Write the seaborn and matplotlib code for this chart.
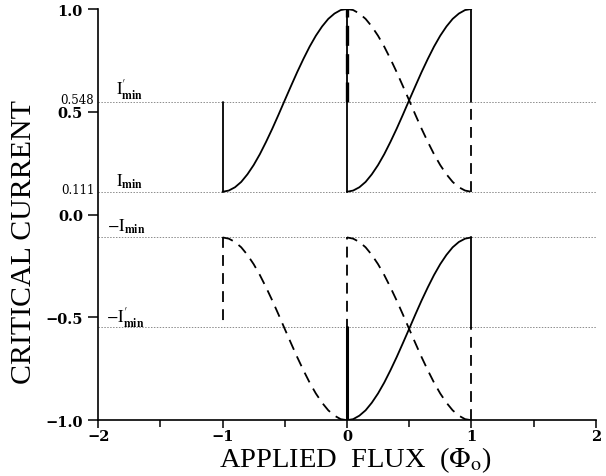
import numpy as np
import pandas as pd
import matplotlib
matplotlib.use("Agg")
import matplotlib.pyplot as plt
import seaborn as sns

# ---- data ----
I_MIN = 0.111
I_MIN_PRIME = 0.548
levels = [I_MIN_PRIME, I_MIN, -I_MIN, -I_MIN_PRIME]
level_names = [r"$\mathrm{I}^{\prime}_{\mathbf{min}}$", r"$\mathrm{I}_{\mathbf{min}}$",
               r"$-\mathrm{I}_{\mathbf{min}}$", r"$-\mathrm{I}^{\prime}_{\mathbf{min}}$"]

# phase within one flux quantum and the rising critical-current branch
phase = [0.0, 0.05, 0.1, 0.15, 0.2, 0.25, 0.3, 0.35, 0.4, 0.45, 0.5,
         0.55, 0.6, 0.65, 0.7, 0.75, 0.8, 0.85, 0.9, 0.95, 1.0]
rise = [0.111, 0.117, 0.133, 0.159, 0.196, 0.241, 0.294, 0.354, 0.418, 0.486, 0.556,
        0.625, 0.693, 0.757, 0.817, 0.870, 0.915, 0.952, 0.978, 0.995, 1.0]

xticks = [-2, -1, 0, 1, 2]
xminor = [-1.5, -0.5, 0.5, 1.5]
yticks = [-1.0, -0.5, 0.0, 0.5, 1.0]
yticklabels = ["\u22121.0", "\u22120.5", "0.0", "0.5", "1.0"]

# ---- build curve tables ----
rows = []
def add(name, xs, ys, style):
    for x, y in zip(xs, ys):
        rows.append(dict(seg=name, x=x, y=y, style=style))

ph = np.array(phase)
ri = np.array(rise)
# upper branch (solid)
add("u_s1", ph - 1, ri, "solid")
add("u_s2", ph, ri, "solid")
add("u_v1", [-1, -1], [I_MIN, I_MIN_PRIME], "solid")
add("u_v0", [0, 0], [1.0, I_MIN], "solid")
add("u_v2", [1, 1], [1.0, I_MIN_PRIME], "solid")
# upper branch (dashed)
add("u_d1", ph, ri[::-1], "dash")
add("u_dv0", [0, 0], [I_MIN_PRIME, 1.0], "dashthick")
add("u_dv1", [1, 1], [I_MIN, I_MIN_PRIME], "dash")
# lower branch (mirror: dashed)
add("l_d1", ph - 1, -ri, "dash")
add("l_d2", ph, -ri, "dash")
add("l_dv1", [-1, -1], [-I_MIN, -I_MIN_PRIME], "dash")
add("l_dv0", [0, 0], [-1.0, -I_MIN], "dash")
add("l_dv2", [1, 1], [-1.0, -I_MIN_PRIME], "dash")
# lower branch (solid)
add("l_s1", ph, -ri[::-1], "solid")
add("l_sv0", [0, 0], [-I_MIN_PRIME, -1.0], "solidthick")
add("l_sv1", [1, 1], [-I_MIN, -I_MIN_PRIME], "solid")
df = pd.DataFrame(rows)

# ---- figure ----
sns.set_theme(style="white")
plt.rcParams["font.family"] = ["DejaVu Serif"]
plt.rcParams["mathtext.fontset"] = "stix"
plt.rcParams["text.color"] = "black"
plt.rcParams["axes.labelcolor"] = "black"
plt.rcParams["xtick.color"] = "black"
plt.rcParams["ytick.color"] = "black"

fig = plt.figure(figsize=(6.06, 4.77), dpi=100)
ax = fig.add_axes([0.162, 0.117, 0.821, 0.862])

for lv in levels:
    ax.axhline(lv, color="0.55", lw=0.7, ls=(0, (1.5, 1.5)), zorder=1)

styles = {
    "solid": dict(linestyle="-", linewidth=1.3),
    "solidthick": dict(linestyle="-", linewidth=2.2),
    "dash": dict(linestyle=(0, (6, 4)), linewidth=1.3),
    "dashthick": dict(linestyle=(0, (6, 2.5)), linewidth=2.4),
}
for name, g in df.groupby("seg", sort=False):
    st = g["style"].iloc[0]
    sns.lineplot(data=g, x="x", y="y", ax=ax, color="black", estimator=None,
                 sort=False, legend=False, zorder=3, **styles[st])

ax.set_xlim(-2, 2)
ax.set_ylim(-1, 1)
ax.set_xticks(xticks)
ax.set_xticks(xminor, minor=True)
ax.set_xticklabels([("\u2212" + str(abs(t))) if t < 0 else str(t) for t in xticks],
                   fontweight="bold", fontsize=10.5)
ax.set_yticks(yticks)
ax.set_yticklabels(yticklabels, fontweight="bold", fontsize=10.5)
ax.tick_params(axis="both", which="major", direction="out", length=7, width=1.1,
               color="black", labelcolor="black", pad=4, bottom=True, left=True)
ax.tick_params(axis="x", which="major", length=6, pad=0)
ax.tick_params(axis="x", which="minor", direction="out", length=5, width=1.1,
               color="black", bottom=True)

for s in ["top", "right"]:
    ax.spines[s].set_visible(False)
for s in ["left", "bottom"]:
    ax.spines[s].set_color("black")
    ax.spines[s].set_linewidth(1.2)

# small value labels for the levels
trans = matplotlib.transforms.blended_transform_factory(ax.transAxes, ax.transData)
for lv in [I_MIN_PRIME, I_MIN]:
    ax.text(-0.008, lv + 0.012, f"{lv:.3f}", transform=trans, ha="right",
            va="center", fontsize=8.5, color="black")

# level annotations
ann_x = [-1.86, -1.86, -1.93, -1.94]
ann_y = [0.59, 0.14, -0.078, -0.52]
for name, x, y in zip(level_names, ann_x, ann_y):
    ax.text(x, y, name, ha="left", va="baseline", fontsize=12, color="black")

ax.set_xlabel(r"APPLIED  FLUX  ($\Phi_{\rm o}$)", fontsize=20.5,
              fontfamily="Liberation Serif", color="black")
ax.set_ylabel("CRITICAL CURRENT", fontsize=21.5, fontfamily="Liberation Serif",
              color="black")
ax.xaxis.set_label_coords(0.518, -0.058)
ax.yaxis.set_label_coords(-0.122, 0.435)

fig.savefig("out.png", dpi=100, facecolor="white")
